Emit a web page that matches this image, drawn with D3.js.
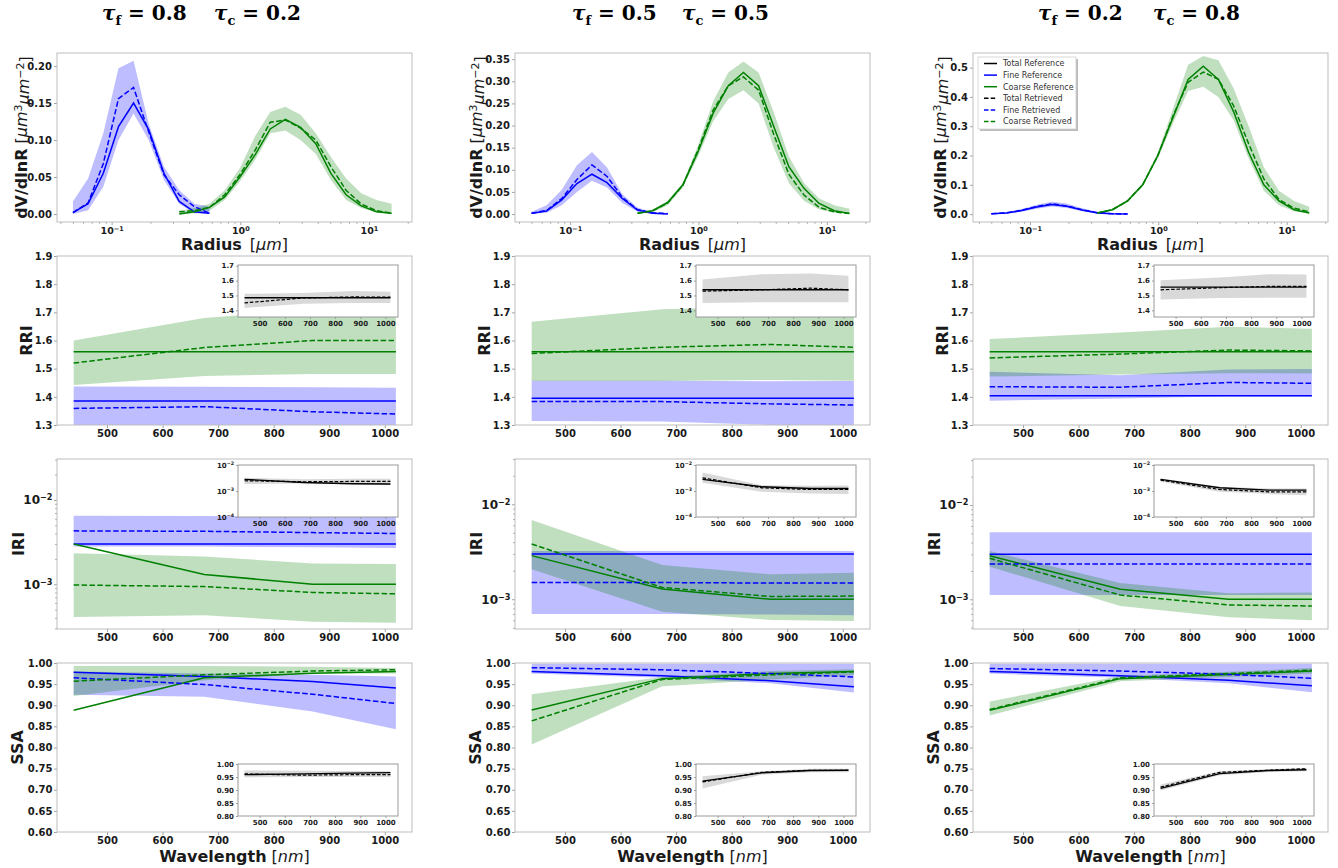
<!DOCTYPE html>
<html><head><meta charset="utf-8">
<script src="https://cdn.jsdelivr.net/npm/d3@7/dist/d3.min.js"></script>
<style>body{margin:0;background:#fff}</style>
</head><body><svg id="c" width="1338" height="868"></svg>
<script>
// ---------------- DATA ----------------
const radiusFine = [0.05,0.0656,0.0861,0.113,0.148,0.194,0.255,0.335,0.439,0.576];
const radiusCoarse = [0.335,0.439,0.576,0.756,0.992,1.302,1.708,2.241,2.94,3.86,5.06,6.64,8.71,11.43,15.0];
const wavelengths = [440,675,870,1020];
const wlTicks = [500,600,700,800,900,1000];
const titleFine = ["0.8","0.5","0.2"];
const titleCoarse = ["0.2","0.5","0.8"];
const legendLabels = ["Total Reference","Fine Reference","Coarse Reference","Total Retrieved","Fine Retrieved","Coarse Retrieved"];

// PSD column 1
const c1FineRef = [0.002,0.014,0.055,0.118,0.150,0.114,0.055,0.017,0.003,0.001];
const c1FineRet = [0.002,0.015,0.068,0.156,0.171,0.111,0.053,0.026,0.010,0.001];
const c1FineHi  = [0.017,0.048,0.109,0.197,0.207,0.122,0.064,0.032,0.014,0.010];
const c1FineLo  = [0.000,0.005,0.037,0.100,0.136,0.100,0.046,0.014,0.001,0.000];
const c1CoarseRef = [0.000,0.003,0.009,0.023,0.050,0.080,0.115,0.128,0.117,0.095,0.055,0.026,0.011,0.003,0.001];
const c1CoarseRet = [0.003,0.0045,0.009,0.026,0.053,0.086,0.124,0.127,0.116,0.100,0.064,0.032,0.0135,0.0045,0.001];
const c1CoarseHi  = [0.0045,0.008,0.014,0.032,0.062,0.105,0.138,0.145,0.134,0.109,0.077,0.048,0.028,0.019,0.014];
const c1CoarseLo  = [0.000,0.001,0.0045,0.019,0.044,0.073,0.109,0.113,0.100,0.081,0.046,0.019,0.008,0.002,0.000];
// PSD column 2
const c2FineRef = [0.0015,0.007,0.032,0.069,0.090,0.071,0.035,0.009,0.0015,0.0];
const c2FineRet = [0.002,0.008,0.035,0.078,0.111,0.085,0.038,0.010,0.003,0.001];
const c2FineHi  = [0.005,0.020,0.055,0.110,0.140,0.105,0.045,0.015,0.004,0.0015];
const c2FineLo  = [0.0,0.003,0.020,0.050,0.075,0.060,0.025,0.005,0.0,0.0];
const c2CoarseRef = [0.0015,0.0075,0.026,0.066,0.141,0.228,0.290,0.320,0.290,0.198,0.107,0.058,0.024,0.0075,0.0015];
const c2CoarseRet = [0.002,0.007,0.025,0.065,0.145,0.235,0.290,0.310,0.280,0.180,0.090,0.043,0.015,0.005,0.001];
const c2CoarseHi  = [0.003,0.010,0.030,0.070,0.155,0.255,0.320,0.345,0.320,0.230,0.130,0.070,0.035,0.020,0.012];
const c2CoarseLo  = [0.0,0.004,0.020,0.060,0.130,0.210,0.260,0.280,0.250,0.150,0.070,0.030,0.010,0.003,0.0];
// PSD column 3
const c3FineRef = [0.001,0.004,0.012,0.024,0.033,0.027,0.014,0.004,0.001,0.0];
const c3FineRet = [0.001,0.004,0.013,0.026,0.035,0.028,0.015,0.005,0.001,0.0];
const c3FineHi  = [0.002,0.007,0.017,0.032,0.042,0.036,0.020,0.008,0.003,0.001];
const c3FineLo  = [0.0,0.002,0.008,0.018,0.026,0.021,0.010,0.002,0.0,0.0];
const c3CoarseRef = [0.004,0.015,0.045,0.100,0.200,0.330,0.460,0.505,0.460,0.350,0.210,0.100,0.045,0.015,0.004];
const c3CoarseRet = [0.004,0.015,0.045,0.100,0.200,0.335,0.450,0.485,0.460,0.370,0.240,0.120,0.050,0.020,0.008];
const c3CoarseHi  = [0.006,0.018,0.050,0.105,0.210,0.360,0.510,0.540,0.525,0.430,0.300,0.160,0.080,0.045,0.025];
const c3CoarseLo  = [0.002,0.012,0.040,0.095,0.190,0.310,0.420,0.435,0.400,0.320,0.190,0.080,0.030,0.010,0.002];

// RRI
const c1RriFineRef = [1.385,1.385,1.385,1.385];
const c1RriFineRet = [1.359,1.365,1.347,1.339];
const c1RriFineHi  = [1.437,1.436,1.434,1.432];
const c1RriFineLo  = [1.25,1.25,1.25,1.25];
const c1RriCoarseRef = [1.56,1.56,1.56,1.56];
const c1RriCoarseRet = [1.52,1.575,1.60,1.60];
const c1RriCoarseHi  = [1.60,1.68,1.71,1.72];
const c1RriCoarseLo  = [1.442,1.474,1.481,1.481];
const c1RriTotRef = [1.485,1.485,1.485,1.485];
const c1RriTotRet = [1.45,1.483,1.49,1.489];
const c1RriTotHi  = [1.511,1.516,1.53,1.525];
const c1RriTotLo  = [1.416,1.445,1.45,1.45];

const c2RriFineRef = [1.395,1.395,1.395,1.395];
const c2RriFineRet = [1.383,1.383,1.375,1.371];
const c2RriFineHi  = [1.457,1.457,1.455,1.456];
const c2RriFineLo  = [1.314,1.312,1.300,1.298];
const c2RriCoarseRef = [1.56,1.56,1.56,1.56];
const c2RriCoarseRet = [1.554,1.576,1.586,1.576];
const c2RriCoarseHi  = [1.667,1.711,1.72,1.72];
const c2RriCoarseLo  = [1.456,1.456,1.46,1.457];
const c2RriTotRef = [1.538,1.538,1.538,1.538];
const c2RriTotRet = [1.529,1.538,1.549,1.538];
const c2RriTotHi  = [1.607,1.643,1.648,1.632];
const c2RriTotLo  = [1.45,1.455,1.455,1.455];

const c3RriFineRef = [1.404,1.404,1.404,1.404];
const c3RriFineRet = [1.436,1.434,1.451,1.448];
const c3RriFineHi  = [1.489,1.477,1.497,1.499];
const c3RriFineLo  = [1.386,1.394,1.402,1.401];
const c3RriCoarseRef = [1.56,1.56,1.56,1.56];
const c3RriCoarseRet = [1.538,1.552,1.566,1.563];
const c3RriCoarseHi  = [1.605,1.628,1.649,1.642];
const c3RriCoarseLo  = [1.472,1.479,1.484,1.483];
const c3RriTotRef = [1.556,1.556,1.556,1.556];
const c3RriTotRet = [1.538,1.552,1.561,1.561];
const c3RriTotHi  = [1.603,1.621,1.643,1.641];
const c3RriTotLo  = [1.472,1.483,1.485,1.485];

// IRI
const c1IriFineRef = [3.0e-3,3.0e-3,3.0e-3,3.0e-3];
const c1IriFineRet = [4.3e-3,4.25e-3,4.1e-3,4.0e-3];
const c1IriFineHi  = [6.5e-3,6.45e-3,6.4e-3,6.35e-3];
const c1IriFineLo  = [2.8e-3,2.8e-3,2.75e-3,2.7e-3];
const c1IriCoarseRef = [3.0e-3,1.31e-3,1.0e-3,1.0e-3];
const c1IriCoarseRet = [9.8e-4,9.4e-4,8.0e-4,7.7e-4];
const c1IriCoarseHi  = [2.33e-3,2.13e-3,1.77e-3,1.74e-3];
const c1IriCoarseLo  = [4.1e-4,4.3e-4,3.6e-4,3.5e-4];
const c1IriTotRef = [2.79e-3,2.13e-3,1.9e-3,1.85e-3];
const c1IriTotRet = [2.48e-3,2.27e-3,2.33e-3,2.33e-3];
const c1IriTotHi  = [3.2e-3,2.8e-3,2.96e-3,2.96e-3];
const c1IriTotLo  = [1.85e-3,1.95e-3,1.8e-3,1.7e-3];

const c2IriFineRef = [3.0e-3,3.0e-3,3.0e-3,3.0e-3];
const c2IriFineRet = [1.5e-3,1.5e-3,1.48e-3,1.48e-3];
const c2IriFineHi  = [3.23e-3,3.23e-3,3.23e-3,3.23e-3];
const c2IriFineLo  = [7.0e-4,7.0e-4,6.9e-4,6.8e-4];
const c2IriCoarseRef = [2.88e-3,1.28e-3,1.0e-3,1.0e-3];
const c2IriCoarseRet = [3.82e-3,1.33e-3,1.07e-3,1.08e-3];
const c2IriCoarseHi  = [6.84e-3,2.3e-3,1.83e-3,1.9e-3];
const c2IriCoarseLo  = [2.07e-3,7.4e-4,6.05e-4,5.9e-4];
const c2IriTotRef = [2.79e-3,1.45e-3,1.25e-3,1.25e-3];
const c2IriTotRet = [3.2e-3,1.33e-3,1.14e-3,1.14e-3];
const c2IriTotHi  = [5.2e-3,1.68e-3,1.58e-3,1.62e-3];
const c2IriTotLo  = [2.07e-3,9.3e-4,8.0e-4,7.6e-4];

const c3IriFineRef = [3.0e-3,3.0e-3,3.0e-3,3.0e-3];
const c3IriFineRet = [2.37e-3,2.37e-3,2.37e-3,2.37e-3];
const c3IriFineHi  = [5.13e-3,5.13e-3,5.13e-3,5.13e-3];
const c3IriFineLo  = [1.11e-3,1.11e-3,1.11e-3,1.11e-3];
const c3IriCoarseRef = [2.9e-3,1.28e-3,1.0e-3,1.0e-3];
const c3IriCoarseRet = [2.72e-3,1.11e-3,8.7e-4,8.5e-4];
const c3IriCoarseHi  = [3.25e-3,1.49e-3,1.16e-3,1.18e-3];
const c3IriCoarseLo  = [2.22e-3,8.5e-4,6.45e-4,6.0e-4];
const c3IriTotRef = [2.79e-3,1.33e-3,1.08e-3,1.08e-3];
const c3IriTotRet = [2.63e-3,1.14e-3,9.3e-4,9.3e-4];
const c3IriTotHi  = [3.05e-3,1.45e-3,1.25e-3,1.25e-3];
const c3IriTotLo  = [2.27e-3,9.3e-4,7.6e-4,6.9e-4];

// SSA
const c1SsaFineRef = [0.978,0.968,0.956,0.941];
const c1SsaFineRet = [0.965,0.949,0.926,0.904];
const c1SsaFineHi  = [0.980,0.975,0.972,0.968];
const c1SsaFineLo  = [0.925,0.920,0.885,0.843];
const c1SsaCoarseRef = [0.888,0.965,0.976,0.980];
const c1SsaCoarseRet = [0.957,0.972,0.981,0.984];
const c1SsaCoarseHi  = [0.993,0.993,0.991,0.988];
const c1SsaCoarseLo  = [0.922,0.959,0.975,0.975];
const c1SsaTotRef = [0.959,0.962,0.965,0.967];
const c1SsaTotRet = [0.962,0.957,0.959,0.959];
const c1SsaTotHi  = [0.975,0.974,0.973,0.972];
const c1SsaTotLo  = [0.949,0.950,0.950,0.950];

const c2SsaFineRef = [0.980,0.970,0.958,0.944];
const c2SsaFineRet = [0.989,0.984,0.975,0.967];
const c2SsaFineHi  = [0.998,0.998,0.998,0.998];
const c2SsaFineLo  = [0.975,0.965,0.952,0.930];
const c2SsaCoarseRef = [0.889,0.963,0.975,0.980];
const c2SsaCoarseRet = [0.863,0.961,0.972,0.979];
const c2SsaCoarseHi  = [0.926,0.967,0.981,0.985];
const c2SsaCoarseLo  = [0.807,0.945,0.961,0.971];
const c2SsaTotRef = [0.934,0.966,0.975,0.976];
const c2SsaTotRet = [0.931,0.968,0.976,0.976];
const c2SsaTotHi  = [0.953,0.972,0.982,0.982];
const c2SsaTotLo  = [0.906,0.959,0.968,0.968];

const c3SsaFineRef = [0.980,0.970,0.959,0.946];
const c3SsaFineRet = [0.987,0.981,0.973,0.964];
const c3SsaFineHi  = [0.998,0.998,0.998,0.998];
const c3SsaFineLo  = [0.975,0.965,0.952,0.931];
const c3SsaCoarseRef = [0.888,0.963,0.973,0.981];
const c3SsaCoarseRet = [0.890,0.965,0.975,0.983];
const c3SsaCoarseHi  = [0.909,0.969,0.979,0.988];
const c3SsaCoarseLo  = [0.876,0.957,0.967,0.975];
const c3SsaTotRef = [0.906,0.963,0.975,0.978];
const c3SsaTotRet = [0.911,0.968,0.976,0.982];
const c3SsaTotHi  = [0.921,0.972,0.981,0.985];
const c3SsaTotLo  = [0.898,0.957,0.969,0.972];

// ---------------- TABLES built from the arrays ----------------
const psdData = [
  {fr:c1FineRef,ft:c1FineRet,fh:c1FineHi,fl:c1FineLo,cr:c1CoarseRef,ct:c1CoarseRet,ch:c1CoarseHi,cl:c1CoarseLo},
  {fr:c2FineRef,ft:c2FineRet,fh:c2FineHi,fl:c2FineLo,cr:c2CoarseRef,ct:c2CoarseRet,ch:c2CoarseHi,cl:c2CoarseLo},
  {fr:c3FineRef,ft:c3FineRet,fh:c3FineHi,fl:c3FineLo,cr:c3CoarseRef,ct:c3CoarseRet,ch:c3CoarseHi,cl:c3CoarseLo}
];
const optData = {
  rri:[
    {fr:c1RriFineRef,ft:c1RriFineRet,fh:c1RriFineHi,fl:c1RriFineLo,cr:c1RriCoarseRef,ct:c1RriCoarseRet,ch:c1RriCoarseHi,cl:c1RriCoarseLo,tr:c1RriTotRef,tt:c1RriTotRet,th:c1RriTotHi,tl:c1RriTotLo},
    {fr:c2RriFineRef,ft:c2RriFineRet,fh:c2RriFineHi,fl:c2RriFineLo,cr:c2RriCoarseRef,ct:c2RriCoarseRet,ch:c2RriCoarseHi,cl:c2RriCoarseLo,tr:c2RriTotRef,tt:c2RriTotRet,th:c2RriTotHi,tl:c2RriTotLo},
    {fr:c3RriFineRef,ft:c3RriFineRet,fh:c3RriFineHi,fl:c3RriFineLo,cr:c3RriCoarseRef,ct:c3RriCoarseRet,ch:c3RriCoarseHi,cl:c3RriCoarseLo,tr:c3RriTotRef,tt:c3RriTotRet,th:c3RriTotHi,tl:c3RriTotLo}],
  iri:[
    {fr:c1IriFineRef,ft:c1IriFineRet,fh:c1IriFineHi,fl:c1IriFineLo,cr:c1IriCoarseRef,ct:c1IriCoarseRet,ch:c1IriCoarseHi,cl:c1IriCoarseLo,tr:c1IriTotRef,tt:c1IriTotRet,th:c1IriTotHi,tl:c1IriTotLo},
    {fr:c2IriFineRef,ft:c2IriFineRet,fh:c2IriFineHi,fl:c2IriFineLo,cr:c2IriCoarseRef,ct:c2IriCoarseRet,ch:c2IriCoarseHi,cl:c2IriCoarseLo,tr:c2IriTotRef,tt:c2IriTotRet,th:c2IriTotHi,tl:c2IriTotLo},
    {fr:c3IriFineRef,ft:c3IriFineRet,fh:c3IriFineHi,fl:c3IriFineLo,cr:c3IriCoarseRef,ct:c3IriCoarseRet,ch:c3IriCoarseHi,cl:c3IriCoarseLo,tr:c3IriTotRef,tt:c3IriTotRet,th:c3IriTotHi,tl:c3IriTotLo}],
  ssa:[
    {fr:c1SsaFineRef,ft:c1SsaFineRet,fh:c1SsaFineHi,fl:c1SsaFineLo,cr:c1SsaCoarseRef,ct:c1SsaCoarseRet,ch:c1SsaCoarseHi,cl:c1SsaCoarseLo,tr:c1SsaTotRef,tt:c1SsaTotRet,th:c1SsaTotHi,tl:c1SsaTotLo},
    {fr:c2SsaFineRef,ft:c2SsaFineRet,fh:c2SsaFineHi,fl:c2SsaFineLo,cr:c2SsaCoarseRef,ct:c2SsaCoarseRet,ch:c2SsaCoarseHi,cl:c2SsaCoarseLo,tr:c2SsaTotRef,tt:c2SsaTotRet,th:c2SsaTotHi,tl:c2SsaTotLo},
    {fr:c3SsaFineRef,ft:c3SsaFineRet,fh:c3SsaFineHi,fl:c3SsaFineLo,cr:c3SsaCoarseRef,ct:c3SsaCoarseRet,ch:c3SsaCoarseHi,cl:c3SsaCoarseLo,tr:c3SsaTotRef,tt:c3SsaTotRet,th:c3SsaTotHi,tl:c3SsaTotLo}]
};

// ---------------- LAYOUT ----------------
const svg = d3.select('#c');
const BLUE = '#0000ff', GREEN = '#008000';
const FONT = '"DejaVu Sans", sans-serif';
const colLeft = [57, 515, 973];
const PW = 355;
const rowBox = {psd:[53,222], rri:[256,425], iri:[459,629], ssa:[663,832]};
const psdXDom = [[0.0376,21.6],[0.0372,21.7],[0.0360,21.0]];
const psdYDom = [[-0.0108,0.2176],[-0.018,0.364],[-0.027,0.55]];
const psdYTicks = [[0,0.05,0.1,0.15,0.2],[0,0.05,0.1,0.15,0.2,0.25,0.3,0.35],[0,0.1,0.2,0.3,0.4,0.5]];
const psdYFmt = ['.2f','.2f','.1f'];
const iriYDom = [[2.95e-4,3.06e-2],[4.86e-4,3.0e-2],[4.84e-4,3.08e-2]];
const wlDom = [410,1049];
const insetWlDom = [414,1050];
const psdLabelOff = [36,39,33];
const titleX = [[102,214],[572,682],[1038,1153]];
const DASH = '5.5,2.4';
let clipN = 0;

function expStr(d){ const e = Math.round(Math.log10(d)); return (e<0?'\u2212':'')+Math.abs(e); }
function styleAxis(a, fs, tickColor){
  a.select('.domain').remove();
  a.selectAll('.tick line').attr('stroke', tickColor||'#8a8a8a').attr('stroke-width',0.8);
  a.selectAll('.tick text').attr('fill','#1a1a1a').style('font-size',fs+'px')
    .style('font-weight','bold').style('font-family',FONT);
}
function logLabels(a, fs){
  a.selectAll('.tick text').style('font-size',fs+'px').each(function(d){
    const t = d3.select(this); t.text('');
    t.append('tspan').text('10');
    t.append('tspan').text(expStr(d)).attr('dy','-0.5em').style('font-size',(fs*0.68)+'px');
  });
}

function drawPanel(cfg){
  const g = svg.append('g').attr('transform',`translate(${cfg.x},${cfg.y})`);
  const id = 'cl'+(clipN++);
  g.append('clipPath').attr('id',id).append('rect').attr('width',cfg.w).attr('height',cfg.h);
  g.append('rect').attr('width',cfg.w).attr('height',cfg.h).attr('fill','#fff');
  const p = g.append('g').attr('clip-path',`url(#${id})`);
  const xs = cfg.xs, ys = cfg.ys;
  cfg.bands.forEach(b=>{
    const rows = b.xv.map((xv,i)=>({x:xv,lo:b.lo[i],hi:b.hi[i]}));
    p.append('path').datum(rows)
      .attr('d', d3.area().x(d=>xs(d.x)).y0(d=>ys(d.lo)).y1(d=>ys(d.hi)))
      .attr('fill', b.color).attr('fill-opacity', b.alpha).attr('stroke','none');
  });
  cfg.lines.forEach(l=>{
    const rows = l.xv.map((xv,i)=>({x:xv,v:l.v[i]}));
    p.append('path').datum(rows)
      .attr('d', d3.line().x(d=>xs(d.x)).y(d=>ys(d.v)))
      .attr('fill','none').attr('stroke', l.color).attr('stroke-width', l.w||1.5)
      .attr('stroke-dasharray', l.dash||null);
  });
  // axes
  const fs = cfg.fs, tk = cfg.tick;
  const ax = g.append('g').attr('transform',`translate(0,${cfg.h})`)
    .call(d3.axisBottom(xs).tickValues(cfg.xTicks).tickSize(tk).tickPadding(cfg.pad)
      .tickFormat(cfg.xLog ? (()=>'') : (cfg.xFmt? d3.format(cfg.xFmt): (d=>d))));
  styleAxis(ax, fs);
  if (cfg.xLog) logLabels(ax, cfg.logFs||fs);
  if (cfg.xMinor){
    const mx = g.append('g').attr('transform',`translate(0,${cfg.h})`)
      .call(d3.axisBottom(xs).tickValues(cfg.xMinor).tickSize(tk*0.6).tickFormat(()=>''));
    styleAxis(mx, fs);
  }
  const ay = g.append('g')
    .call(d3.axisLeft(ys).tickValues(cfg.yTicks).tickSize(tk).tickPadding(cfg.pad)
      .tickFormat(cfg.yLog ? (()=>'') : d3.format(cfg.yFmt)));
  styleAxis(ay, fs);
  if (cfg.yLog) logLabels(ay, cfg.logFs||fs);
  if (cfg.yMinor){
    const my = g.append('g')
      .call(d3.axisLeft(ys).tickValues(cfg.yMinor).tickSize(tk*0.6).tickFormat(()=>''));
    styleAxis(my, fs);
  }
  g.append('rect').attr('width',cfg.w).attr('height',cfg.h).attr('fill','none')
    .attr('stroke', cfg.spine||'#bdbdbd').attr('stroke-width',1);
  return g;
}

function minorLog(lo, hi){
  const out = [];
  for (let e=-5;e<=2;e++) for (let m=2;m<=9;m++){ const v=m*Math.pow(10,e); if (v>=lo && v<=hi) out.push(v); }
  return out;
}

// ---------------- TITLES ----------------
titleX.forEach((tx,c)=>{
  [[tx[0],'f',titleFine[c]],[tx[1],'c',titleCoarse[c]]].forEach(([x,sub,val])=>{
    const t = svg.append('text').attr('x',x).attr('y',20)
      .style('font-family','"DejaVu Serif", serif').style('font-size','20px').style('font-weight','bold').attr('fill','#000');
    t.append('tspan').text('\u03C4').style('font-style','italic');
    t.append('tspan').text(sub).attr('dy',5).style('font-size','13px');
    t.append('tspan').text(' = '+val).attr('dy',-5);
  });
});

// ---------------- PSD ROW ----------------
for (let c=0;c<3;c++){
  const d = psdData[c];
  const [y0,y1] = rowBox.psd;
  const xs = d3.scaleLog().domain(psdXDom[c]).range([0,PW]);
  const ys = d3.scaleLinear().domain(psdYDom[c]).range([y1-y0,0]);
  drawPanel({x:colLeft[c], y:y0, w:PW, h:y1-y0, xs, ys, fs:10, logFs:9.5, tick:3, pad:2,
    xLog:true, xTicks:[0.1,1,10], xMinor:minorLog(psdXDom[c][0],psdXDom[c][1]),
    yTicks:psdYTicks[c], yFmt:psdYFmt[c],
    bands:[{xv:radiusFine,lo:d.fl,hi:d.fh,color:BLUE,alpha:0.26},
           {xv:radiusCoarse,lo:d.cl,hi:d.ch,color:GREEN,alpha:0.25}],
    lines:[{xv:radiusFine,v:d.fr,color:BLUE},{xv:radiusCoarse,v:d.cr,color:GREEN},
           {xv:radiusFine,v:d.ft,color:BLUE,dash:DASH},{xv:radiusCoarse,v:d.ct,color:GREEN,dash:DASH}]
  });
  // y label
  const cx = colLeft[c]-psdLabelOff[c], cy = (y0+y1)/2;
  const t = svg.append('text').attr('transform',`translate(${cx},${cy}) rotate(-90)`)
    .attr('text-anchor','middle').attr('dy','0.35em').style('font-family',FONT).style('font-size','16px').attr('fill','#1a1a1a');
  t.append('tspan').text('dV/dlnR').style('font-weight','bold');
  t.append('tspan').text(' [');
  t.append('tspan').text('\u03BCm').style('font-style','italic');
  t.append('tspan').text('3').attr('dy','-0.45em').style('font-size','11px');
  t.append('tspan').text('\u03BCm').style('font-style','italic').attr('dy','0.45em');
  t.append('tspan').text('\u22122').attr('dy','-0.45em').style('font-size','11px');
  t.append('tspan').text(']').attr('dy','0.45em');
  // x label
  const xl = svg.append('text').attr('x',colLeft[c]+PW/2).attr('y',y1+28).attr('text-anchor','middle')
    .style('font-family',FONT).style('font-size','16px').attr('fill','#1a1a1a');
  xl.append('tspan').text('Radius').style('font-weight','bold');
  xl.append('tspan').text('\u2002[');
  xl.append('tspan').text('\u03BCm').style('font-style','italic');
  xl.append('tspan').text(']');
}

// legend (column 3 PSD)
(function(){
  const lx = colLeft[2]+5, ly = rowBox.psd[0]+4, lw = 98, lh = 72;
  const lg = svg.append('g').attr('transform',`translate(${lx},${ly})`);
  lg.append('rect').attr('x',2).attr('y',2).attr('width',lw).attr('height',lh).attr('fill','#777').attr('fill-opacity',0.5);
  lg.append('rect').attr('width',lw).attr('height',lh).attr('fill','#fff').attr('stroke','#cfcfcf').attr('stroke-width',0.8);
  const cols = ['#000',BLUE,GREEN,'#000',BLUE,GREEN];
  legendLabels.forEach((lab,i)=>{
    const yy = 6.5 + i*11.6;
    lg.append('line').attr('x1',6).attr('x2',19).attr('y1',yy).attr('y2',yy)
      .attr('stroke',cols[i]).attr('stroke-width',1.5).attr('stroke-dasharray', i>=3? '4.5,2.2': null);
    lg.append('text').attr('x',25).attr('y',yy).attr('dy','0.35em').text(lab)
      .style('font-family',FONT).style('font-size','8px').attr('fill','#333');
  });
})();

// ---------------- OPTICAL ROWS ----------------
const rowCfg = {
  rri:{label:'RRI', labelOff:31, yDom:()=>[1.3,1.9], yTicks:[1.3,1.4,1.5,1.6,1.7,1.8,1.9], yFmt:'.1f',
       inset:{dy:9, yDom:[1.355,1.705], yTicks:[1.4,1.5,1.6,1.7], yFmt:'.1f'}},
  iri:{label:'IRI', labelOff:38.5, log:true, yDom:c=>iriYDom[c], yTicks:[1e-3,1e-2],
       inset:{dy:6, log:true, yDom:[1e-4,1e-2], yTicks:[1e-4,1e-3,1e-2]}},
  ssa:{label:'SSA', labelOff:39.5, yDom:()=>[0.6,1.0], yTicks:[0.6,0.65,0.7,0.75,0.8,0.85,0.9,0.95,1.0], yFmt:'.2f',
       inset:{dy:101, yDom:[0.8,1.0], yTicks:[0.8,0.85,0.9,0.95,1.0], yFmt:'.2f'}}
};

['rri','iri','ssa'].forEach(key=>{
  const rc = rowCfg[key];
  const [y0,y1] = rowBox[key];
  for (let c=0;c<3;c++){
    const d = optData[key][c];
    const xs = d3.scaleLinear().domain(wlDom).range([0,PW]);
    const ys = (rc.log? d3.scaleLog(): d3.scaleLinear()).domain(rc.yDom(c)).range([y1-y0,0]);
    drawPanel({x:colLeft[c], y:y0, w:PW, h:y1-y0, xs, ys, fs:10, logFs:12, tick:3, pad:1.5,
      xTicks:wlTicks, yTicks:rc.yTicks, yFmt:rc.yFmt, yLog:!!rc.log,
      yMinor: rc.log? minorLog(rc.yDom(c)[0], rc.yDom(c)[1]) : null,
      bands:[{xv:wavelengths,lo:d.fl,hi:d.fh,color:BLUE,alpha:0.26},
             {xv:wavelengths,lo:d.cl,hi:d.ch,color:GREEN,alpha:0.25}],
      lines:[{xv:wavelengths,v:d.fr,color:BLUE},{xv:wavelengths,v:d.cr,color:GREEN},
             {xv:wavelengths,v:d.ft,color:BLUE,dash:DASH},{xv:wavelengths,v:d.ct,color:GREEN,dash:DASH}]
    });
    // inset
    const ic = rc.inset;
    const ix = colLeft[c]+181, iy = y0+ic.dy, iw = 160, ih = 52;
    const ixs = d3.scaleLinear().domain(insetWlDom).range([0,iw]);
    const iys = (ic.log? d3.scaleLog(): d3.scaleLinear()).domain(ic.yDom).range([ih,0]);
    drawPanel({x:ix, y:iy, w:iw, h:ih, xs:ixs, ys:iys, fs:7, logFs:7, tick:2, pad:2, spine:'#9a9a9a',
      xTicks:wlTicks, yTicks:ic.yTicks, yFmt:ic.yFmt, yLog:!!ic.log,
      bands:[{xv:wavelengths,lo:d.tl,hi:d.th,color:'#808080',alpha:0.3}],
      lines:[{xv:wavelengths,v:d.tr,color:'#000',w:1.4},{xv:wavelengths,v:d.tt,color:'#000',w:1.2,dash:'3.5,1.8'}]
    });
    // y label
    svg.append('text').attr('transform',`translate(${colLeft[c]-rc.labelOff},${(y0+y1)/2}) rotate(-90)`)
      .attr('text-anchor','middle').attr('dy','0.35em').text(rc.label)
      .style('font-family',FONT).style('font-size','16px').style('font-weight','bold').attr('fill','#1a1a1a');
    if (key==='ssa'){
      const xl = svg.append('text').attr('x',colLeft[c]+PW/2).attr('y',y1+29.5).attr('text-anchor','middle')
        .style('font-family',FONT).style('font-size','16px').attr('fill','#1a1a1a');
      xl.append('tspan').text('Wavelength').style('font-weight','bold');
      xl.append('tspan').text(' [');
      xl.append('tspan').text('nm').style('font-style','italic');
      xl.append('tspan').text(']');
    }
  }
});
</script></body></html>
